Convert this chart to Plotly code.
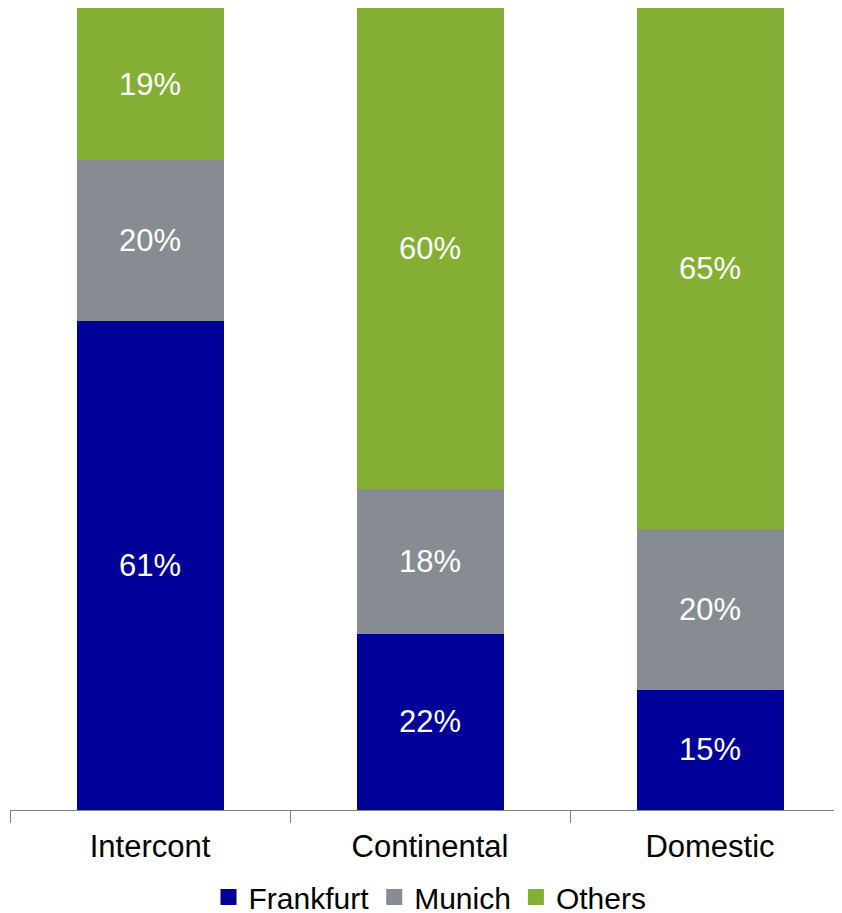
import plotly.graph_objects as go

categories = ["Intercont", "Continental", "Domestic"]
frankfurt = [61, 22, 15]
munich = [20, 18, 20]
others = [19, 60, 65]

series = [("Frankfurt", frankfurt, "#000099"),
          ("Munich", munich, "#878C92"),
          ("Others", others, "#84AF34")]

FONT = "Liberation Sans, Arial"
fig = go.Figure()
for name, vals, col in series:
    fig.add_trace(go.Bar(
        x=categories, y=vals, name=name,
        marker=dict(color=col, line=dict(width=0)),
        width=0.525,
        text=[f"{v}%" for v in vals],
        textposition="inside", insidetextanchor="middle",
        textfont=dict(color="white", size=31, family=FONT),
        hoverinfo="skip", showlegend=False,
    ))
# legend entries with larger square swatches
for name, vals, col in series:
    fig.add_trace(go.Scatter(
        x=[None], y=[None], mode="markers", name=name,
        marker=dict(symbol="square", size=16, color=col),
        showlegend=True, hoverinfo="skip",
    ))

# page body has an 8px margin; the figure is offset by 8px in both directions
W, H = 842, 940
plot_h = 802
fig.update_layout(
    barmode="stack",
    width=W, height=H,
    margin=dict(l=2, r=0, t=0, b=H - plot_h, pad=0, autoexpand=False),
    paper_bgcolor="white", plot_bgcolor="white",
    font=dict(family=FONT, size=31, color="black"),
    showlegend=True,
    legend=dict(orientation="h", x=0.5, xanchor="center",
                y=-(889 - plot_h) / plot_h, yanchor="middle",
                font=dict(size=30), traceorder="normal",
                itemwidth=30, tracegroupgap=0),
    uniformtext=dict(mode="show", minsize=31),
)
fig.update_xaxes(
    type="category", range=[-0.5, 2.5],
    showline=True, linecolor="#7f7f7f", linewidth=1,
    ticks="outside", tickson="boundaries", ticklen=12, tickcolor="#7f7f7f",
    showgrid=False, zeroline=False,
    tickfont=dict(size=31), ticklabelstandoff=9, fixedrange=True,
)
fig.update_yaxes(range=[0, 100], visible=False, showgrid=False, zeroline=False)

fig.write_html("out.html")
